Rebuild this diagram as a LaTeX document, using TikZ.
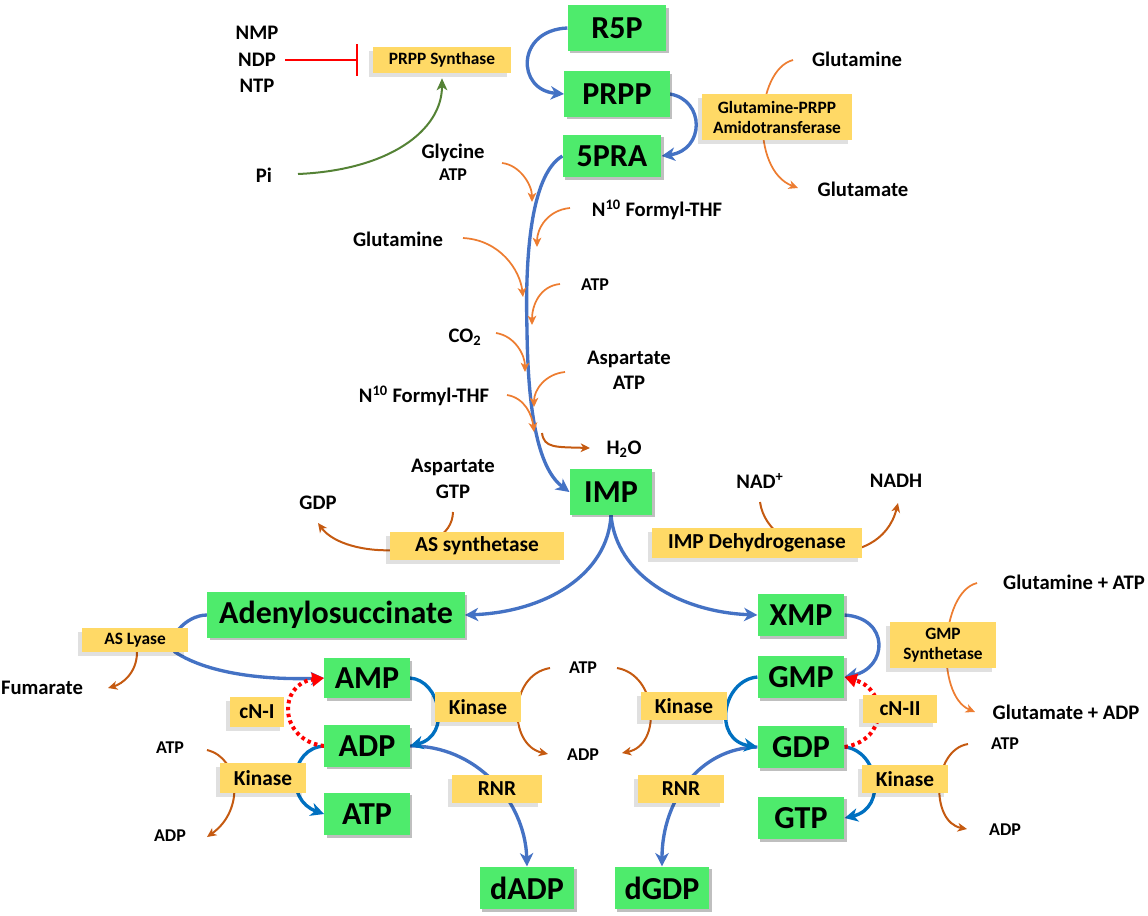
\documentclass[tikz,border=0pt]{standalone}
\usepackage{fontspec}
\setmainfont{Carlito}
\usetikzlibrary{arrows.meta,shadows}
\pgfdeclarelayer{bg}
\pgfsetlayers{bg,main}
\definecolor{gboxc}{HTML}{4EEB6C}
\definecolor{yboxc}{HTML}{FFD966}
\definecolor{blc}{HTML}{4472C4}
\definecolor{bltc}{HTML}{0070C0}
\definecolor{orc}{HTML}{ED7D31}
\definecolor{dorc}{HTML}{C55A11}
\definecolor{grc}{HTML}{548235}
\begin{document}
\begin{tikzpicture}[x=0.75pt,y=-0.75pt,
  gbox/.style={fill=gboxc, font=\fontsize{24}{28}\selectfont\bfseries, minimum width=65pt, minimum height=32pt, inner sep=0pt,
    drop shadow={fill=black, opacity=0.25, shadow xshift=2pt, shadow yshift=-2pt}},
  ybox/.style={fill=yboxc, font=\fontsize{16}{18}\selectfont\bfseries, inner sep=0pt, minimum height=21pt,
    drop shadow={fill=black, opacity=0.12, shadow xshift=-3pt, shadow yshift=-3pt}},
  lbl/.style={font=\fontsize{15.5}{19}\selectfont\bfseries, inner sep=1pt, align=center},
  slbl/.style={font=\fontsize{13.5}{15}\selectfont\bfseries, inner sep=1pt},
  barr/.style={draw=blc, line width=2.5pt, -{Stealth[length=10pt,width=10pt,inset=3pt]}},
  bkarr/.style={draw=bltc, line width=2.5pt, -{Stealth[length=10pt,width=10pt,inset=3pt]}},
  oarr/.style={draw=orc, line width=1.3pt, -{Stealth[length=7pt,width=6.5pt,inset=2pt]}},
  darr/.style={draw=dorc, line width=1.5pt, -{Stealth[length=7pt,width=6.5pt,inset=2pt]}},
  rdot/.style={draw=red, line width=3pt, dash pattern=on 2.6pt off 2.6pt, -{Triangle[length=9pt,width=10pt]}},
]
\useasboundingbox (0,0) rectangle (1148,915);

% ---------------- green metabolite boxes
\node[gbox, minimum width=74pt, minimum height=34pt] (r5p) at (617,28) {R5P};
\node[gbox, minimum width=79pt, minimum height=34pt] (prpp) at (617,94) {PRPP};
\node[gbox, minimum width=74pt] (fivepra) at (612,156) {5PRA};
\node[gbox, minimum width=62pt, minimum height=34pt] (imp) at (611,492) {IMP};
\node[gbox, minimum width=193pt, minimum height=34pt] (adeno) at (336,615) {Adenylosuccinate};
\node[gbox] (xmp) at (801,615) {XMP};
\node[gbox] (gmp) at (801,677) {GMP};
\node[gbox] (gdp) at (801,747) {GDP};
\node[gbox] (gtp) at (801,818) {GTP};
\node[gbox, minimum width=64pt, minimum height=30pt] (amp) at (367,678) {AMP};
\node[gbox, minimum width=64pt, minimum height=31pt] (adp) at (367,746) {ADP};
\node[gbox, minimum width=64pt, minimum height=32pt] (atp) at (367,814) {ATP};
\node[gbox, minimum width=71pt] (dadp) at (527,888) {dADP};
\node[gbox, minimum width=71pt] (dgdp) at (662,888) {dGDP};

% ---------------- yellow enzyme boxes
\node[ybox, font=\fontsize{13}{15}\selectfont\bfseries, minimum width=104pt, minimum height=19pt] (prppsyn) at (442,60) {PRPP Synthase};
\node[ybox, font=\fontsize{13}{15}\selectfont\bfseries, align=center, minimum width=112pt, minimum height=34pt] (gpat) at (777,117) {Glutamine-PRPP\\Amidotransferase};
\node[ybox, minimum width=131pt] (assyn) at (477,546) {AS synthetase};
\node[ybox, minimum width=157pt, minimum height=22pt] (impdh) at (757,543) {IMP Dehydrogenase};
\node[ybox, font=\fontsize{13}{15}\selectfont\bfseries, minimum width=79pt, minimum height=18pt] (aslyase) at (135,640) {AS Lyase};
\node[ybox, minimum width=41pt, minimum height=22pt] (cnone) at (257,712) {cN-I};
\node[ybox, minimum width=65pt, minimum height=22pt] (kinl) at (263,778) {Kinase};
\node[ybox, minimum width=65pt, minimum height=22pt] (kina) at (478,707) {Kinase};
\node[ybox, minimum width=67pt] (rnra) at (497,789) {RNR};
\node[ybox, minimum width=64pt, minimum height=21pt] (king) at (684,706) {Kinase};
\node[ybox, minimum width=65pt] (rnrg) at (681,789) {RNR};
\node[ybox, minimum width=56pt] (cntwo) at (900,709) {cN-II};
\node[ybox, minimum width=65pt, minimum height=21pt] (kinr) at (905,779) {Kinase};
\node[ybox, font=\fontsize{13}{15}\selectfont\bfseries, align=center, minimum width=80pt, minimum height=34pt] (gmpsyn) at (943,645) {GMP\\Synthetase};

% ---------------- text labels
\node[lbl] (nmp) at (257,33) {NMP};
\node[lbl] (ndp) at (257,60) {NDP};
\node[lbl] (ntp) at (257,86) {NTP};
\node[lbl] (pi) at (264,175) {Pi};
\node[lbl] (glyc) at (453,153) {Glycine};
\node[slbl] (glyatp) at (453,175) {ATP};
\node[lbl] (fthfa) at (657,210) {N\textsuperscript{10} Formyl-THF};
\node[lbl] (glna) at (398,239) {Glutamine};
\node[slbl] (atpb) at (595,285) {ATP};
\node[lbl] (co2) at (465,337) {CO\textsubscript{2}};
\node[lbl] (aspatp) at (629,370) {Aspartate\\ATP};
\node[lbl] (fthfb) at (424,396) {N\textsuperscript{10} Formyl-THF};
\node[lbl] (water) at (624,449) {H\textsubscript{2}O};
\node[lbl] (aspgtp) at (453,479) {Aspartate\\GTP};
\node[lbl] (gdplbl) at (318,503) {GDP};
\node[lbl] (nad) at (760,481) {NAD\textsuperscript{+}};
\node[lbl] (nadh) at (896,481) {NADH};
\node[lbl] (glntop) at (857,59) {Glutamine};
\node[lbl] (glutop) at (863,189) {Glutamate};
\node[lbl] (fum) at (42,688) {Fumarate};
\node[slbl] (atpl) at (170,748) {ATP};
\node[slbl] (adpl) at (170,836) {ADP};
\node[slbl] (atpm) at (583,668) {ATP};
\node[slbl] (adpm) at (583,755) {ADP};
\node[slbl] (atpr) at (1005,744) {ATP};
\node[slbl] (adpr) at (1005,830) {ADP};
\node[lbl] (glnatp) at (1074,582) {Glutamine + ATP};
\node[lbl] (gluadp) at (1066,712) {Glutamate + ADP};

% ---------------- free connector ends
\coordinate (ndpend) at (285,60);
\coordinate (inhib) at (358,60);
\coordinate (pistart) at (298,174);
\coordinate (g1s) at (502,163); \coordinate (g1e) at (532,202);
\coordinate (f1s) at (570,208); \coordinate (f1e) at (537,247);
\coordinate (q1s) at (463,238); \coordinate (q1e) at (523,297);
\coordinate (a1s) at (560,284); \coordinate (a1e) at (532,325);
\coordinate (c1s) at (496,333); \coordinate (c1e) at (525,372);
\coordinate (s1s) at (565,372); \coordinate (s1e) at (534,407);
\coordinate (f2s) at (507,395); \coordinate (f2e) at (534,432);
\coordinate (w1s) at (542,433); \coordinate (w1e) at (590,448);
\coordinate (gtps) at (453,512); \coordinate (gdpe) at (318,523);
\coordinate (nads) at (760,502); \coordinate (nadhe) at (898,503);
\coordinate (glns) at (793,60); \coordinate (glue) at (798,188);
\coordinate (gas) at (977,583); \coordinate (gae) at (975,712);
\coordinate (fums) at (137,652); \coordinate (fume) at (108,688);
\coordinate (kls) at (207,750); \coordinate (kle) at (207,837);
\coordinate (kas) at (550,668); \coordinate (kae) at (548,754);
\coordinate (kgs) at (617,668); \coordinate (kge) at (622,753);
\coordinate (krs) at (968,744); \coordinate (kre) at (967,829);

\begin{pgfonlayer}{bg}
% main blue pathway
\draw[barr] (r5p.west) .. controls (516,30) and (516,90) .. (prpp.west);
\draw[barr] (prpp.east) .. controls (705,100) and (705,150) .. (fivepra.east);
\draw[barr] (fivepra.west) .. controls (530,175) and (525,260) .. (527,330)
            .. controls (528,420) and (540,470) .. (imp.west);
\draw[barr] (imp.south) .. controls (608,575) and (545,612) .. (adeno.east);
\draw[barr] (imp.south) .. controls (616,575) and (680,612) .. (xmp.west);
\draw[barr] (adeno.west) .. controls (185,615) and (165,640) .. (175,652)
            .. controls (210,675) and (270,680) .. (amp.west);
\draw[barr] (xmp.east) .. controls (890,618) and (888,668) .. (gmp.east);
\draw[barr] (adp.east) .. controls (475,745) and (525,800) .. (dadp.north);
\draw[barr] (gdp.west) .. controls (700,748) and (662,800) .. (dgdp.north);
% kinase arrows
\draw[bkarr] (adp.west) .. controls (290,748) and (285,800) .. (atp.west);
\draw[bkarr] (amp.east) .. controls (440,680) and (452,735) .. (adp.east);
\draw[bkarr] (gmp.west) .. controls (722,680) and (712,740) .. (gdp.west);
\draw[bkarr] (gdp.east) .. controls (878,750) and (888,808) .. (gtp.east);
% nucleotidases
\draw[rdot] (adp.west) .. controls (278,740) and (278,684) .. (amp.west);
\draw[rdot] (gdp.east) .. controls (888,740) and (888,690) .. (gmp.east);
% regulation of PRPP synthase
\draw[red, line width=1.5pt, -{Bar[width=24pt,line width=1.5pt]}] (ndpend) -- (inhib);
\draw[draw=grc, line width=1.5pt, -{Stealth[length=9pt,width=8pt,inset=2.5pt]}, shorten >=4pt]
  (pistart) .. controls (390,170) and (442,130) .. (prppsyn.south);
% side reactions (light orange)
\draw[oarr] (glns) .. controls (755,70) and (750,170) .. (glue);
\draw[oarr] (g1s) .. controls (520,165) and (532,185) .. (g1e);
\draw[oarr] (f1s) .. controls (548,210) and (537,228) .. (f1e);
\draw[oarr] (q1s) .. controls (500,240) and (520,270) .. (q1e);
\draw[oarr] (a1s) .. controls (540,286) and (532,305) .. (a1e);
\draw[oarr] (c1s) .. controls (515,336) and (525,355) .. (c1e);
\draw[oarr] (s1s) .. controls (545,374) and (534,390) .. (s1e);
\draw[oarr] (f2s) .. controls (525,398) and (532,415) .. (f2e);
\draw[oarr] (gas) .. controls (940,592) and (935,695) .. (gae);
% side reactions (dark orange)
\draw[darr] (w1s) .. controls (544,448) and (555,447) .. (w1e);
\draw[darr] (gtps) .. controls (452,560) and (345,560) .. (gdpe);
\draw[darr] (nads) .. controls (768,560) and (880,575) .. (nadhe);
\draw[darr] (fums) .. controls (137,673) and (122,684) .. (fume);
\draw[darr] (kls) .. controls (240,758) and (245,810) .. (kle);
\draw[darr] (kas) .. controls (508,675) and (508,745) .. (kae);
\draw[darr] (kgs) .. controls (658,675) and (662,745) .. (kge);
\draw[darr] (krs) .. controls (932,750) and (930,822) .. (kre);
\end{pgfonlayer}
\end{tikzpicture}
\end{document}
